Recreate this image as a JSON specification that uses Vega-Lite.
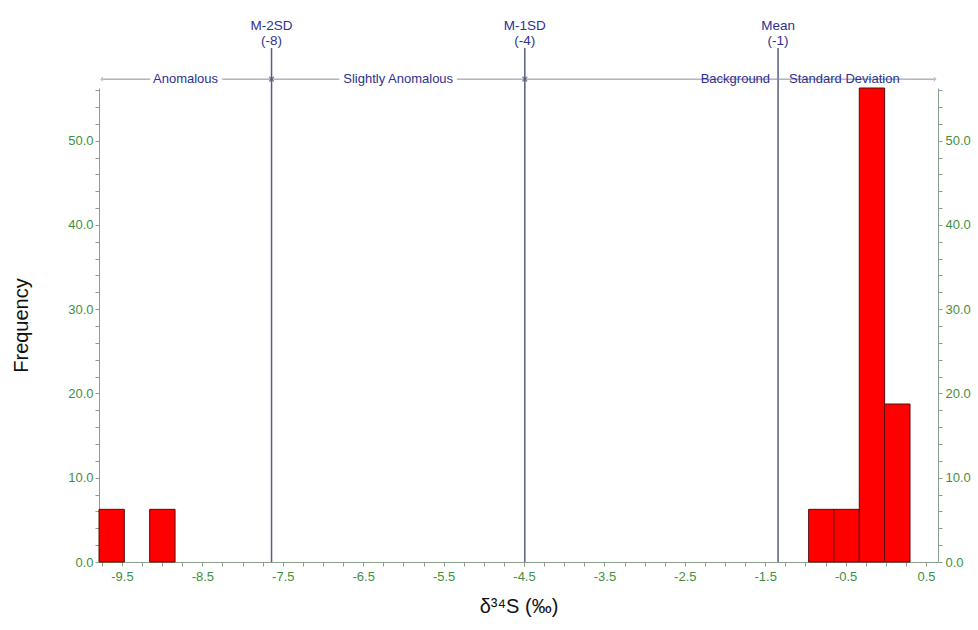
{
  "$schema": "https://vega.github.io/schema/vega-lite/v6.json",
  "width": 839,
  "height": 474,
  "autosize": "none",
  "padding": {"left": 99, "top": 88, "right": 40, "bottom": 68},
  "background": "white",
  "config": {
    "view": {"stroke": null},
    "font": "Liberation Sans",
    "axis": {
      "grid": false,
      "domainColor": "#8aa08a",
      "tickColor": "#8aa08a",
      "labelColor": "#3f8f3f",
      "labelFont": "Liberation Sans",
      "labelFontSize": 13,
      "labelOverlap": false,
      "titleFont": "Liberation Sans",
      "titleFontWeight": "normal",
      "titleColor": "#111111",
      "titleFontSize": 20
    }
  },
  "datasets": {
    "bins": [
      {"bin_start": -9.786, "bin_end": -9.471, "frequency": 6.25},
      {"bin_start": -9.156, "bin_end": -8.84, "frequency": 6.25},
      {"bin_start": -0.96, "bin_end": -0.645, "frequency": 6.25},
      {"bin_start": -0.645, "bin_end": -0.33, "frequency": 6.25},
      {"bin_start": -0.33, "bin_end": -0.015, "frequency": 56.25},
      {"bin_start": -0.015, "bin_end": 0.301, "frequency": 18.75}
    ],
    "thresholds": [
      {"name": "M-2SD", "rounded": "(-8)", "value": -7.64},
      {"name": "M-1SD", "rounded": "(-4)", "value": -4.49},
      {"name": "Mean", "rounded": "(-1)", "value": -1.34}
    ],
    "centred": [
      {"label": "Anomalous", "at": -8.71},
      {"label": "Slightly Anomalous", "at": -6.065}
    ],
    "leftOfMean": [{"label": "Background", "at": -1.34}],
    "rightOfMean": [{"label": "Standard Deviation", "at": -1.34}]
  },
  "encoding": {
    "x": {
      "type": "quantitative",
      "scale": {"domain": [-9.786, 0.649], "nice": false, "zero": false}
    },
    "y": {
      "type": "quantitative",
      "scale": {"domain": [0, 56.25], "nice": false}
    }
  },
  "layer": [
    {
      "data": {"name": "bins"},
      "mark": {"type": "rect", "fill": "#ff0000", "stroke": "#5c0a0a", "strokeWidth": 1},
      "encoding": {
        "x": {
          "field": "bin_start",
          "type": "quantitative",
          "title": "δ³⁴S (‰)",
          "axis": {
            "orient": "bottom",
            "values": [-9.75, -9.5, -9.25, -9, -8.75, -8.5, -8.25, -8, -7.75, -7.5, -7.25, -7, -6.75, -6.5, -6.25, -6, -5.75, -5.5, -5.25, -5, -4.75, -4.5, -4.25, -4, -3.75, -3.5, -3.25, -3, -2.75, -2.5, -2.25, -2, -1.75, -1.5, -1.25, -1, -0.75, -0.5, -0.25, 0, 0.25, 0.5],
            "labelExpr": "abs(round(datum.value * 4)) % 4 == 2 ? (datum.value < 0 ? '-' : '') + format(abs(datum.value), '.1f') : ''",
            "labelOverlap": false,
            "tickSize": 4,
            "labelPadding": 4,
            "titlePadding": 13,
            "labelFlush": false
          }
        },
        "x2": {"field": "bin_end"},
        "y": {
          "field": "frequency",
          "type": "quantitative",
          "title": "Frequency",
          "axis": {
            "orient": "left",
            "values": [0, 2, 4, 6, 8, 10, 12, 14, 16, 18, 20, 22, 24, 26, 28, 30, 32, 34, 36, 38, 40, 42, 44, 46, 48, 50, 52, 54, 56],
            "labelExpr": "datum.value % 10 == 0 ? format(datum.value, '.1f') : ''",
            "tickSize": 4,
            "labelPadding": 2,
            "titlePadding": 36
          }
        },
        "y2": {"datum": 0}
      }
    },
    {
      "data": {"name": "bins"},
      "mark": {"type": "rule", "opacity": 0},
      "encoding": {
        "x": {"field": "bin_start", "type": "quantitative", "axis": null},
        "y": {
          "field": "frequency",
          "type": "quantitative",
          "axis": {
            "orient": "right",
            "title": null,
            "values": [0, 2, 4, 6, 8, 10, 12, 14, 16, 18, 20, 22, 24, 26, 28, 30, 32, 34, 36, 38, 40, 42, 44, 46, 48, 50, 52, 54, 56],
            "labelExpr": "datum.value % 10 == 0 ? format(datum.value, '.1f') : ''",
            "tickSize": 4,
            "labelPadding": 3
          }
        }
      }
    },
    {
      "data": {"name": "thresholds"},
      "mark": {"type": "rule", "color": "#55607f", "strokeWidth": 1.5},
      "encoding": {
        "x": {"field": "value", "type": "quantitative", "axis": null},
        "y": {"datum": 0, "axis": null},
        "y2": {"datum": 61.0}
      }
    },
    {
      "data": {"name": "thresholds"},
      "mark": {"type": "text", "color": "#2e3192", "fontSize": 13.5, "baseline": "alphabetic", "align": "center"},
      "encoding": {
        "x": {"field": "value", "type": "quantitative", "axis": null},
        "y": {"datum": 63.1, "axis": null},
        "text": {"field": "name"}
      }
    },
    {
      "data": {"name": "thresholds"},
      "mark": {"type": "text", "color": "#2e3192", "fontSize": 13.5, "baseline": "alphabetic", "align": "center"},
      "encoding": {
        "x": {"field": "value", "type": "quantitative", "axis": null},
        "y": {"datum": 61.35, "axis": null},
        "text": {"field": "rounded"}
      }
    },
    {
      "data": {"values": [{"from": -9.75, "to": 0.61}]},
      "mark": {"type": "rule", "color": "#8c8c9c", "strokeWidth": 1},
      "encoding": {
        "x": {"field": "from", "type": "quantitative", "axis": null},
        "x2": {"field": "to"},
        "y": {"datum": 57.3, "axis": null}
      }
    },
    {
      "data": {"values": [{"at": -9.75}, {"at": -1.34}]},
      "mark": {"type": "point", "shape": "M 0.4 -0.8 L -0.4 0 L 0.4 0.8", "filled": false, "stroke": "#8c8c9c", "strokeWidth": 1, "size": 30},
      "encoding": {
        "x": {"field": "at", "type": "quantitative", "axis": null},
        "y": {"datum": 57.3, "axis": null}
      }
    },
    {
      "data": {"values": [{"at": 0.61}]},
      "mark": {"type": "point", "shape": "M -0.4 -0.8 L 0.4 0 L -0.4 0.8", "filled": false, "stroke": "#8c8c9c", "strokeWidth": 1, "size": 30},
      "encoding": {
        "x": {"field": "at", "type": "quantitative", "axis": null},
        "y": {"datum": 57.3, "axis": null}
      }
    },
    {
      "data": {"values": [{"at": -7.64}, {"at": -4.49}]},
      "mark": {"type": "point", "shape": "M -0.6 -0.6 L 0.6 0.6 M -0.6 0.6 L 0.6 -0.6", "filled": false, "stroke": "#444c6a", "strokeWidth": 1.3, "size": 60},
      "encoding": {
        "x": {"field": "at", "type": "quantitative", "axis": null},
        "y": {"datum": 57.3, "axis": null}
      }
    },
    {
      "data": {"name": "centred"},
      "mark": {"type": "text", "fontSize": 13, "baseline": "middle", "align": "center", "stroke": "white", "strokeWidth": 8, "fill": "white"},
      "encoding": {
        "x": {"field": "at", "type": "quantitative", "axis": null},
        "y": {"datum": 57.3, "axis": null},
        "text": {"field": "label"}
      }
    },
    {
      "data": {"name": "centred"},
      "mark": {"type": "text", "fontSize": 13, "baseline": "middle", "align": "center", "color": "#2e3192"},
      "encoding": {
        "x": {"field": "at", "type": "quantitative", "axis": null},
        "y": {"datum": 57.3, "axis": null},
        "text": {"field": "label"}
      }
    },
    {
      "data": {"name": "leftOfMean"},
      "mark": {"type": "text", "fontSize": 13, "baseline": "middle", "align": "right", "dx": -8, "color": "#2e3192"},
      "encoding": {
        "x": {"field": "at", "type": "quantitative", "axis": null},
        "y": {"datum": 57.3, "axis": null},
        "text": {"field": "label"}
      }
    },
    {
      "data": {"name": "rightOfMean"},
      "mark": {"type": "text", "fontSize": 13, "baseline": "middle", "align": "left", "dx": 11, "color": "#2e3192"},
      "encoding": {
        "x": {"field": "at", "type": "quantitative", "axis": null},
        "y": {"datum": 57.3, "axis": null},
        "text": {"field": "label"}
      }
    }
  ],
  "resolve": {"axis": {"x": "independent", "y": "independent"}}
}
